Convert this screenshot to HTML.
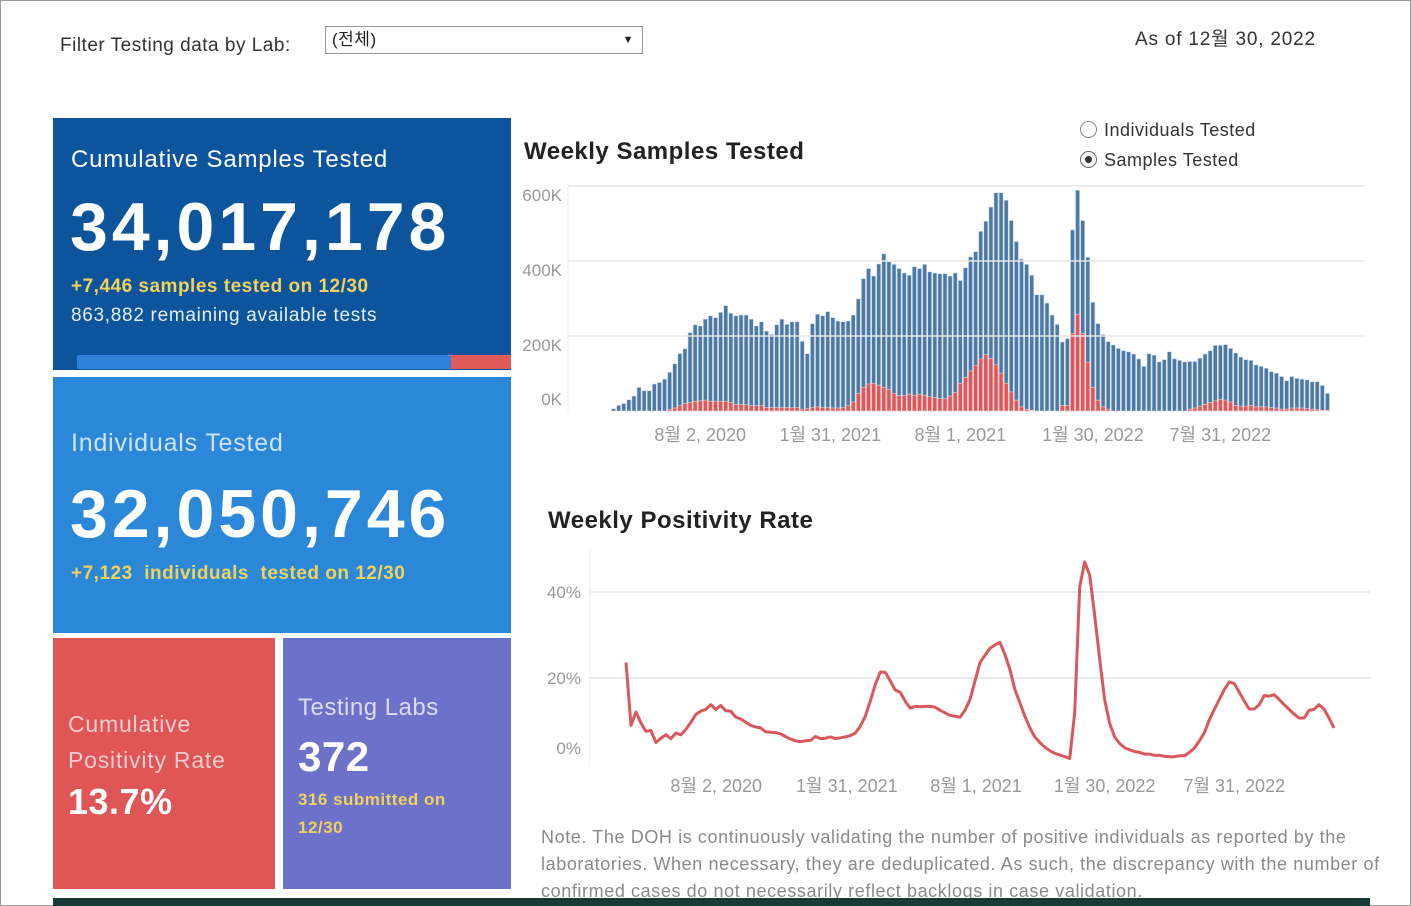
<!DOCTYPE html>
<html><head><meta charset="utf-8">
<style>
body{margin:0;width:1411px;height:906px;position:relative;overflow:hidden;background:#fff;font-family:"Liberation Sans","Noto Sans CJK KR",sans-serif;letter-spacing:0.5px;}
.abs{position:absolute;white-space:nowrap;}
.box{position:absolute;}
</style></head><body>
<div class="abs" style="left:0;top:0;width:1409px;height:904px;border:1px solid #9a9a9a;"></div>
<div class="abs" style="left:60px;top:35px;font-size:19px;color:#333;">Filter Testing data by Lab:</div>
<div class="abs" style="left:325px;top:26px;width:316px;height:26px;border:1px solid #999;font-size:17px;line-height:26px;color:#222;"><span style="margin-left:6px">(전체)</span><span style="position:absolute;right:8px;top:0;font-size:11px;">▼</span></div>
<div class="abs" style="left:1135px;top:24px;font-size:19px;color:#333;letter-spacing:0.8px;">As of 12월 30, 2022</div>

<div class="box" style="left:53px;top:118px;width:458px;height:252px;background:#0c559c;">
 <div class="abs" style="left:18px;top:28px;font-size:24px;color:#fff;letter-spacing:0.8px;">Cumulative Samples Tested</div>
 <div class="abs" style="left:17px;top:70px;font-size:68px;font-weight:bold;color:#fff;letter-spacing:4px;">34,017,178</div>
 <div class="abs" style="left:18px;top:158px;font-size:19px;font-weight:bold;color:#f2d25c;">+7,446 samples tested on 12/30</div>
 <div class="abs" style="left:18px;top:187px;font-size:19px;color:#e6eef7;letter-spacing:0.7px;">863,882 remaining available tests</div>
 <div class="abs" style="left:24px;top:237px;width:374px;height:14px;background:#2f80d8;"></div>
 <div class="abs" style="left:398px;top:237px;width:60px;height:14px;background:#e05a5c;"></div>
</div>
<div class="box" style="left:53px;top:377px;width:458px;height:256px;background:#2b88d8;">
 <div class="abs" style="left:18px;top:52px;font-size:25px;color:#cfe2f6;letter-spacing:0.8px;">Individuals Tested</div>
 <div class="abs" style="left:17px;top:98px;font-size:68px;font-weight:bold;color:#fff;letter-spacing:4px;">32,050,746</div>
 <div class="abs" style="left:18px;top:186px;font-size:19px;font-weight:bold;color:#f2d25c;">+7,123&nbsp; individuals&nbsp; tested on 12/30</div>
</div>
<div class="box" style="left:53px;top:638px;width:222px;height:251px;background:#e05657;">
 <div class="abs" style="left:15px;top:68px;font-size:23px;line-height:36px;color:#f6cccc;white-space:normal;letter-spacing:0.8px;">Cumulative<br>Positivity Rate</div>
 <div class="abs" style="left:15px;top:143px;font-size:36px;font-weight:bold;color:#fff;">13.7%</div>
</div>
<div class="box" style="left:283px;top:638px;width:228px;height:251px;background:#6c72c9;">
 <div class="abs" style="left:15px;top:56px;font-size:24px;color:#dcdcf4;">Testing Labs</div>
 <div class="abs" style="left:15px;top:95px;font-size:42px;font-weight:bold;color:#fff;">372</div>
 <div class="abs" style="left:15px;top:148px;font-size:17px;line-height:28px;font-weight:bold;color:#f2d25c;">316 submitted on<br>12/30</div>
</div>

<div class="abs" style="left:524px;top:138px;font-size:24px;font-weight:bold;color:#222;">Weekly Samples Tested</div>
<div class="abs" style="left:1080px;top:120px;font-size:18px;color:#333;"><span style="display:inline-block;width:15px;height:15px;border:1px solid #888;border-radius:50%;vertical-align:-2px;margin-right:7px;"></span>Individuals Tested</div>
<div class="abs" style="left:1080px;top:150px;font-size:18px;color:#333;"><span style="display:inline-block;width:15px;height:15px;border:1px solid #666;border-radius:50%;vertical-align:-2px;margin-right:7px;position:relative;"><span style="position:absolute;left:4px;top:4px;width:7px;height:7px;border-radius:50%;background:#333;"></span></span>Samples Tested</div>
<div class="abs" style="left:548px;top:507px;font-size:24px;font-weight:bold;color:#222;">Weekly Positivity Rate</div>

<svg id="bars" class="abs" style="left:0;top:0;letter-spacing:0" width="1411" height="906"></svg>

<div class="abs" style="left:541px;top:824px;font-size:18px;line-height:27px;color:#8a8a8a;white-space:normal;width:840px;letter-spacing:0.6px;">Note. The DOH is continuously validating the number of positive individuals as reported by the laboratories. When necessary, they are deduplicated. As such, the discrepancy with the number of confirmed cases do not necessarily reflect backlogs in case validation.</div>
<div class="abs" style="left:53px;top:898px;width:1317px;height:8px;background:#173c38;"></div>

<script>
const sampleVals=[6,15,20,30,40,63,54,54,72,76,85,103,126,153,166,209,230,227,245,254,249,263,281,261,254,256,256,245,227,238,213,204,230,245,231,238,238,186,153,233,258,254,265,249,240,238,240,256,299,353,380,360,392,419,398,391,380,368,362,385,380,391,371,368,366,366,360,368,348,382,411,425,479,506,544,582,582,562,508,452,405,391,362,310,310,288,256,231,184,193,483,589,508,410,290,233,204,185,176,167,161,158,152,139,119,153,149,131,137,158,139,135,131,132,132,141,152,161,175,175,177,167,155,144,137,135,123,119,114,105,101,92,81,92,87,85,83,78,78,68,47];
const positiveVals=[0,0,0,0,0,0,0,0,0,0,0,4,8,14,20,22,26,27,29,26,26,26,26,23,17,17,17,14,14,14,9,9,9,9,9,9,9,5,6,9,11,9,9,8,8,9,14,24,47,63,72,74,69,63,58,47,41,41,45,42,45,42,38,36,33,33,40,49,74,90,107,122,139,150,140,123,101,74,51,29,11,4,2,0,0,0,0,0,15,15,207,258,207,130,63,29,11,5,0,0,0,0,0,0,0,0,0,0,0,0,0,0,0,5,8,13,18,23,27,31,29,24,15,13,13,15,11,11,11,9,8,5,5,8,8,8,6,5,4,2,2];
const barTicks=["0K","200K","400K","600K"];
const barTickVals=[0,200,400,600];
const barDateLabels=["8월 2, 2020","1월 31, 2021","8월 1, 2021","1월 30, 2022","7월 31, 2022"];
const barDateIdx=[17,42.5,68,94,119];
const rateVals=[23.6,9,12.1,9.5,7.6,7.8,5,6,6.8,5.9,7.2,6.8,8,9.7,11.5,12.3,12.7,13.8,12.7,13.6,12.4,12.3,10.9,10.5,9.7,9,8.6,8.4,7.5,7.4,7.3,7,6.4,5.8,5.4,5.2,5.4,5.5,6.4,5.9,6,6.3,5.9,6.1,6.3,6.6,7.2,8.8,11.1,14.6,18.5,21.4,21.3,19.3,17.2,16.7,14.6,13,13.4,13.3,13.4,13.4,13.2,12.5,11.9,11.3,11.1,10.9,12.5,15,19.3,23.6,25.3,26.9,27.7,28.3,25.5,22,17.3,14.2,11.1,8.4,6.3,5,3.9,3.1,2.5,2.1,1.7,1.3,11.9,41.2,47,43.9,34.5,24.4,15,9.5,6.3,4.8,3.8,3.3,2.9,2.7,2.3,2.3,2,2,1.8,1.7,1.7,1.9,1.9,2.7,3.7,5.4,7.3,10.3,12.7,15,17.3,19.1,18.7,16.7,14.6,12.8,12.8,13.8,15.9,15.8,16.1,15,13.8,12.7,11.6,10.7,10.7,12.5,12.7,13.8,12.8,10.7,8.4];
const rateTicks=["0%","20%","40%"];
const rateTickVals=[0,20,40];
const rateDateLabels=["8월 2, 2020","1월 31, 2021","8월 1, 2021","1월 30, 2022","7월 31, 2022"];
const rateDateIdx=[18.1,44.3,70.2,96,122];

const NS="http://www.w3.org/2000/svg";
const svg=document.getElementById('bars');
function mk(tag,attrs,parent){const e=document.createElementNS(NS,tag);for(const k in attrs)e.setAttribute(k,attrs[k]);(parent||svg).appendChild(e);return e;}
const bx0=611,bx1=1330,by0=411,bPerK=75/200;
const bStep=(bx1-bx0)/sampleVals.length;
const bX=i=>bx0+i*bStep;
const bY=v=>by0-v*bPerK;
const gB=mk('g',{});


barTickVals.forEach((v,i)=>{
 if(v>0){const l=mk('line',{x1:568,x2:1365,y1:bY(v),y2:bY(v),stroke:'#e6e6e6','stroke-width':1.5});}
 const t=mk('text',{x:562,y:(v==0?bY(v)-6:bY(v)+15),'text-anchor':'end','font-size':17,fill:'#999','font-family':'Liberation Sans'});
 
 
 t.textContent=barTicks[i];
});
const ax=mk('line',{x1:568,x2:568,y1:185,y2:412,stroke:'#eee'});


sampleVals.forEach((v,i)=>{
 const r=mk('rect',{x:bX(i)+0.5,y:bY(v),width:bStep-1,height:v*bPerK,fill:'#4e79a7',stroke:'#cfe0ee','stroke-width':0.6},gB);
 
 
 const p=positiveVals[i];
 if(p>0){const q=mk('rect',{x:bX(i)+0.5,y:bY(p),width:bStep-1,height:p*bPerK,fill:'#e15759',stroke:'#f5d0d0','stroke-width':0.6},gB);
 
 }
});
barDateLabels.forEach((s,i)=>{
 const t=mk('text',{x:bX(barDateIdx[i])+bStep/2,y:441,'text-anchor':'middle','font-size':18,fill:'#999','font-family':'Liberation Sans, Noto Sans CJK KR, sans-serif'});
 
 
 t.textContent=s;
});
const lx0=626,lx1=1334,ly0=764,lPer=86/20;
const lStep=(lx1-lx0)/(rateVals.length-1);
const lX=i=>lx0+i*lStep;
const lY=v=>ly0-v*lPer;
rateTickVals.forEach((v,i)=>{
 if(v>0){const l=mk('line',{x1:590,x2:1370,y1:lY(v),y2:lY(v),stroke:'#e6e6e6','stroke-width':1.5});}
 const t=mk('text',{x:581,y:(v==0?754:lY(v)+6),'text-anchor':'end','font-size':17,fill:'#999','font-family':'Liberation Sans'});
 
 
 t.textContent=rateTicks[i];
});
const ax2=mk('line',{x1:590,x2:590,y1:550,y2:765,stroke:'#eee'});


const path=mk('polyline',{points:rateVals.map((v,i)=>lX(i).toFixed(1)+','+lY(v).toFixed(1)).join(' '),fill:'none',stroke:'#d9585b','stroke-width':3,'stroke-linejoin':'round'});


rateDateLabels.forEach((s,i)=>{
 const t=mk('text',{x:lX(rateDateIdx[i]),y:792,'text-anchor':'middle','font-size':18,fill:'#999','font-family':'Liberation Sans, Noto Sans CJK KR, sans-serif'});
 
 
 t.textContent=s;
});
</script>
</body></html>
